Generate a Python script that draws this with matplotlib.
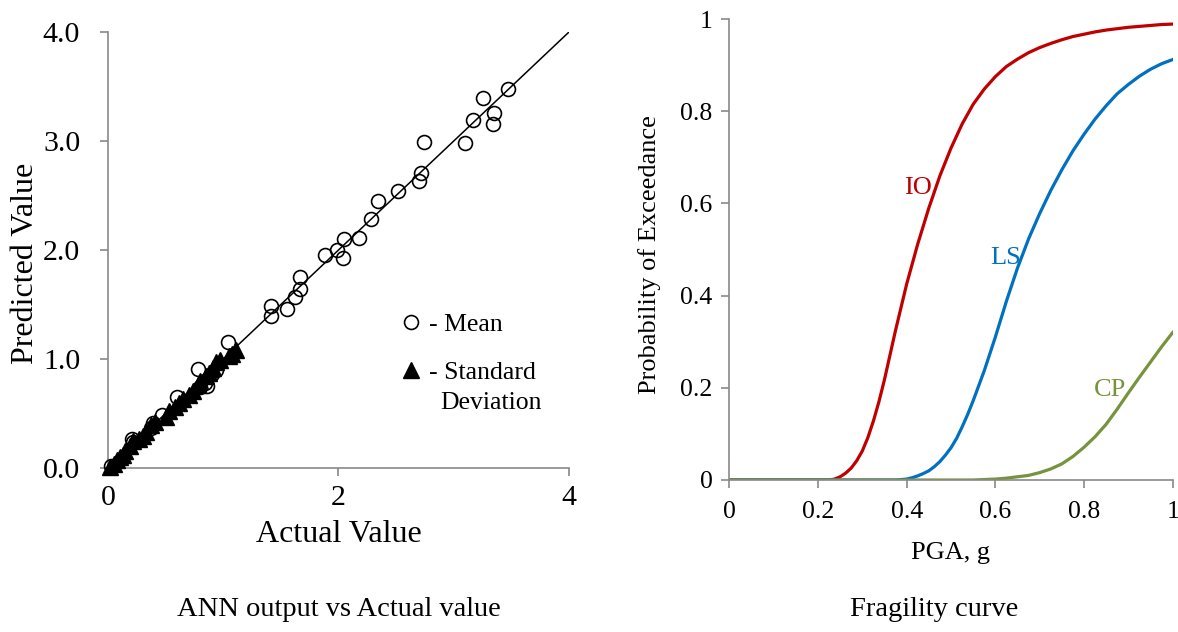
import matplotlib
matplotlib.use("Agg")
import matplotlib.pyplot as plt

plt.rcParams['font.family'] = ['Liberation Serif', 'DejaVu Serif']

# --- left: ANN output vs actual value ---
mean_actual = [0.03, 0.21, 0.22, 0.37, 0.39, 0.47, 0.60, 0.78, 0.80, 0.84, 0.86, 0.94, 0.90,
               1.04, 1.41, 1.41, 1.55, 1.62, 1.67, 1.67, 1.88, 1.99, 2.04, 2.05, 2.18, 2.28,
               2.34, 2.52, 2.70, 2.72, 2.74, 3.10, 3.17, 3.25, 3.34, 3.35, 3.47]
mean_pred = [0.02, 0.27, 0.24, 0.37, 0.41, 0.49, 0.65, 0.91, 0.74, 0.78, 0.75, 0.90, 0.86,
             1.16, 1.39, 1.49, 1.46, 1.57, 1.64, 1.75, 1.95, 2.00, 1.93, 2.10, 2.11, 2.28,
             2.45, 2.54, 2.63, 2.71, 2.99, 2.98, 3.19, 3.39, 3.16, 3.26, 3.48]

std_actual = [0.02, 0.05, 0.08, 0.10, 0.13, 0.15, 0.19, 0.22, 0.27, 0.30, 0.33, 0.37, 0.41,
              0.50, 0.53, 0.58, 0.62, 0.65, 0.70, 0.74, 0.78, 0.80, 0.85, 0.88, 0.91, 0.94,
              0.97, 1.05, 1.08, 1.11]
std_pred = [0.01, 0.04, 0.07, 0.10, 0.12, 0.16, 0.20, 0.25, 0.27, 0.29, 0.33, 0.39, 0.42,
            0.47, 0.52, 0.56, 0.60, 0.63, 0.67, 0.71, 0.76, 0.80, 0.84, 0.87, 0.92, 0.97,
            0.99, 1.03, 1.05, 1.08]

line_x = [0, 4]
line_y = [0, 4]

# --- right: fragility curves ---
pga_io = [0.0, 0.1, 0.2, 0.225, 0.2375, 0.25, 0.2625, 0.275, 0.2875, 0.3, 0.3125, 0.325,
          0.3375, 0.35, 0.375, 0.4, 0.425, 0.45, 0.475, 0.5, 0.525, 0.55, 0.575, 0.6, 0.625,
          0.65, 0.675, 0.7, 0.725, 0.75, 0.775, 0.8, 0.825, 0.85, 0.875, 0.9, 0.925, 0.95,
          0.975, 1.0]
p_io = [0, 0, 0, 0.0, 0.002, 0.007, 0.015, 0.026, 0.042, 0.063, 0.092, 0.128,
        0.17, 0.218, 0.325, 0.425, 0.512, 0.59, 0.66, 0.72, 0.772, 0.815, 0.848, 0.875, 0.897,
        0.913, 0.927, 0.938, 0.947, 0.955, 0.962, 0.967, 0.972, 0.976, 0.979, 0.982, 0.984, 0.986,
        0.988, 0.989]

pga_ls = [0.0, 0.2, 0.375, 0.3875, 0.4, 0.4125, 0.425, 0.4375, 0.45, 0.4625, 0.475, 0.4875,
          0.5, 0.5125, 0.525, 0.5375, 0.55, 0.575, 0.6, 0.625, 0.65, 0.675, 0.7, 0.725, 0.75,
          0.775, 0.8, 0.825, 0.85, 0.875, 0.9, 0.925, 0.95, 0.975, 1.0]
p_ls = [0, 0, 0.0, 0.001, 0.002, 0.005, 0.009, 0.014, 0.02, 0.029, 0.04, 0.054,
        0.07, 0.09, 0.115, 0.142, 0.172, 0.237, 0.31, 0.388, 0.46, 0.523, 0.578, 0.628, 0.673,
        0.714, 0.75, 0.783, 0.812, 0.838, 0.858, 0.876, 0.891, 0.903, 0.912]

pga_cp = [0.0, 0.2, 0.4, 0.55, 0.575, 0.6, 0.625, 0.65, 0.675, 0.7, 0.725, 0.75, 0.775,
          0.8, 0.825, 0.85, 0.875, 0.9, 0.925, 0.95, 0.975, 1.0]
p_cp = [0, 0, 0, 0.0, 0.001, 0.002, 0.004, 0.007, 0.01, 0.016, 0.024, 0.035, 0.051,
        0.071, 0.094, 0.121, 0.154, 0.189, 0.223, 0.256, 0.289, 0.32]

curve_names = ['IO', 'LS', 'CP']
curve_colors = ['#C00000', '#0070C0', '#77933C']
curve_label_pos = [(0.425, 0.633), (0.622, 0.482), (0.859, 0.195)]

grey = '#898989'

fig = plt.figure(figsize=(11.78, 6.32), dpi=100)

# left panel
ax1 = fig.add_axes([108 / 1178, 1 - 468 / 632, 461 / 1178, 436 / 632])
ax1.plot(line_x, line_y, color='black', lw=1.1, zorder=2)
ax1.plot(mean_actual, mean_pred, ls='none', marker='o', ms=10, mfc='none', mec='black',
         mew=1.2, clip_on=False, zorder=3, label='- Mean')
ax1.plot(std_actual, std_pred, ls='none', marker='^', ms=11.5, mfc='black', mec='black',
         clip_on=False, zorder=4, label='- Standard')
ax1.set_xlim(0, 4)
ax1.set_ylim(0, 4)
ax1.set_xticks([0, 2, 4])
ax1.set_yticks([0, 1, 2, 3, 4])
ax1.set_yticklabels(['0.0', '1.0', '2.0', '3.0', '4.0'])
ax1.set_xlabel('Actual Value', fontsize=23)
ax1.set_ylabel('Predicted Value', fontsize=23)
ax1.xaxis.set_label_coords(0.50, -0.12)
ax1.yaxis.set_label_coords(-0.148, 0.47)
ax1.tick_params(axis='x', labelsize=21.5, length=6, width=1.2, color=grey, pad=6)
ax1.tick_params(axis='y', labelsize=21.5, length=6, width=1.2, color=grey, pad=14)
ax1.legend(loc='upper left', bbox_to_anchor=(0.612, 0.378), frameon=False,
           fontsize=18.5, handlelength=0.8, handletextpad=0.3, labelspacing=0.95,
           borderaxespad=0, numpoints=1)
ax1.text(0.720, 0.149, 'Deviation', transform=ax1.transAxes, fontsize=18.5,
         ha='left', va='center')

# right panel
ax2 = fig.add_axes([729.3 / 1178, 1 - 480 / 632, 443.4 / 1178, 461 / 632])
ax2.plot(pga_io, p_io, color=curve_colors[0], lw=2.3)
ax2.plot(pga_ls, p_ls, color=curve_colors[1], lw=2.3)
ax2.plot(pga_cp, p_cp, color=curve_colors[2], lw=2.3)
for name, c, (lx, ly) in zip(curve_names, curve_colors, curve_label_pos):
    ax2.text(lx, ly, name, color=c, fontsize=19, ha='center', va='center')
ax2.set_xlim(0, 1)
ax2.set_ylim(0, 1)
ticks = [0, 0.2, 0.4, 0.6, 0.8, 1]
tick_text = ['0', '0.2', '0.4', '0.6', '0.8', '1']
ax2.set_xticks(ticks)
ax2.set_xticklabels(tick_text)
ax2.set_yticks(ticks)
ax2.set_yticklabels(tick_text)
ax2.set_xlabel('PGA, g', fontsize=19)
ax2.set_ylabel('Probability of Exceedance', fontsize=19)
ax2.xaxis.set_label_coords(0.5, -0.135)
ax2.yaxis.set_label_coords(-0.155, 0.49)
ax2.tick_params(axis='x', labelsize=18.5, length=6, width=1.2, color=grey, pad=9)
ax2.tick_params(axis='y', labelsize=18.5, length=6, width=1.2, color=grey, pad=6)

for ax in (ax1, ax2):
    for s in ('top', 'right'):
        ax.spines[s].set_visible(False)
    for s in ('left', 'bottom'):
        ax.spines[s].set_color(grey)
        ax.spines[s].set_linewidth(1.2)

fig.text(339 / 1178, 1 - 610 / 632, 'ANN output vs Actual value', fontsize=20.5,
         ha='center', va='center')
fig.text(934 / 1178, 1 - 610 / 632, 'Fragility curve', fontsize=20.5,
         ha='center', va='center')

fig.savefig('out.png', dpi=100)
